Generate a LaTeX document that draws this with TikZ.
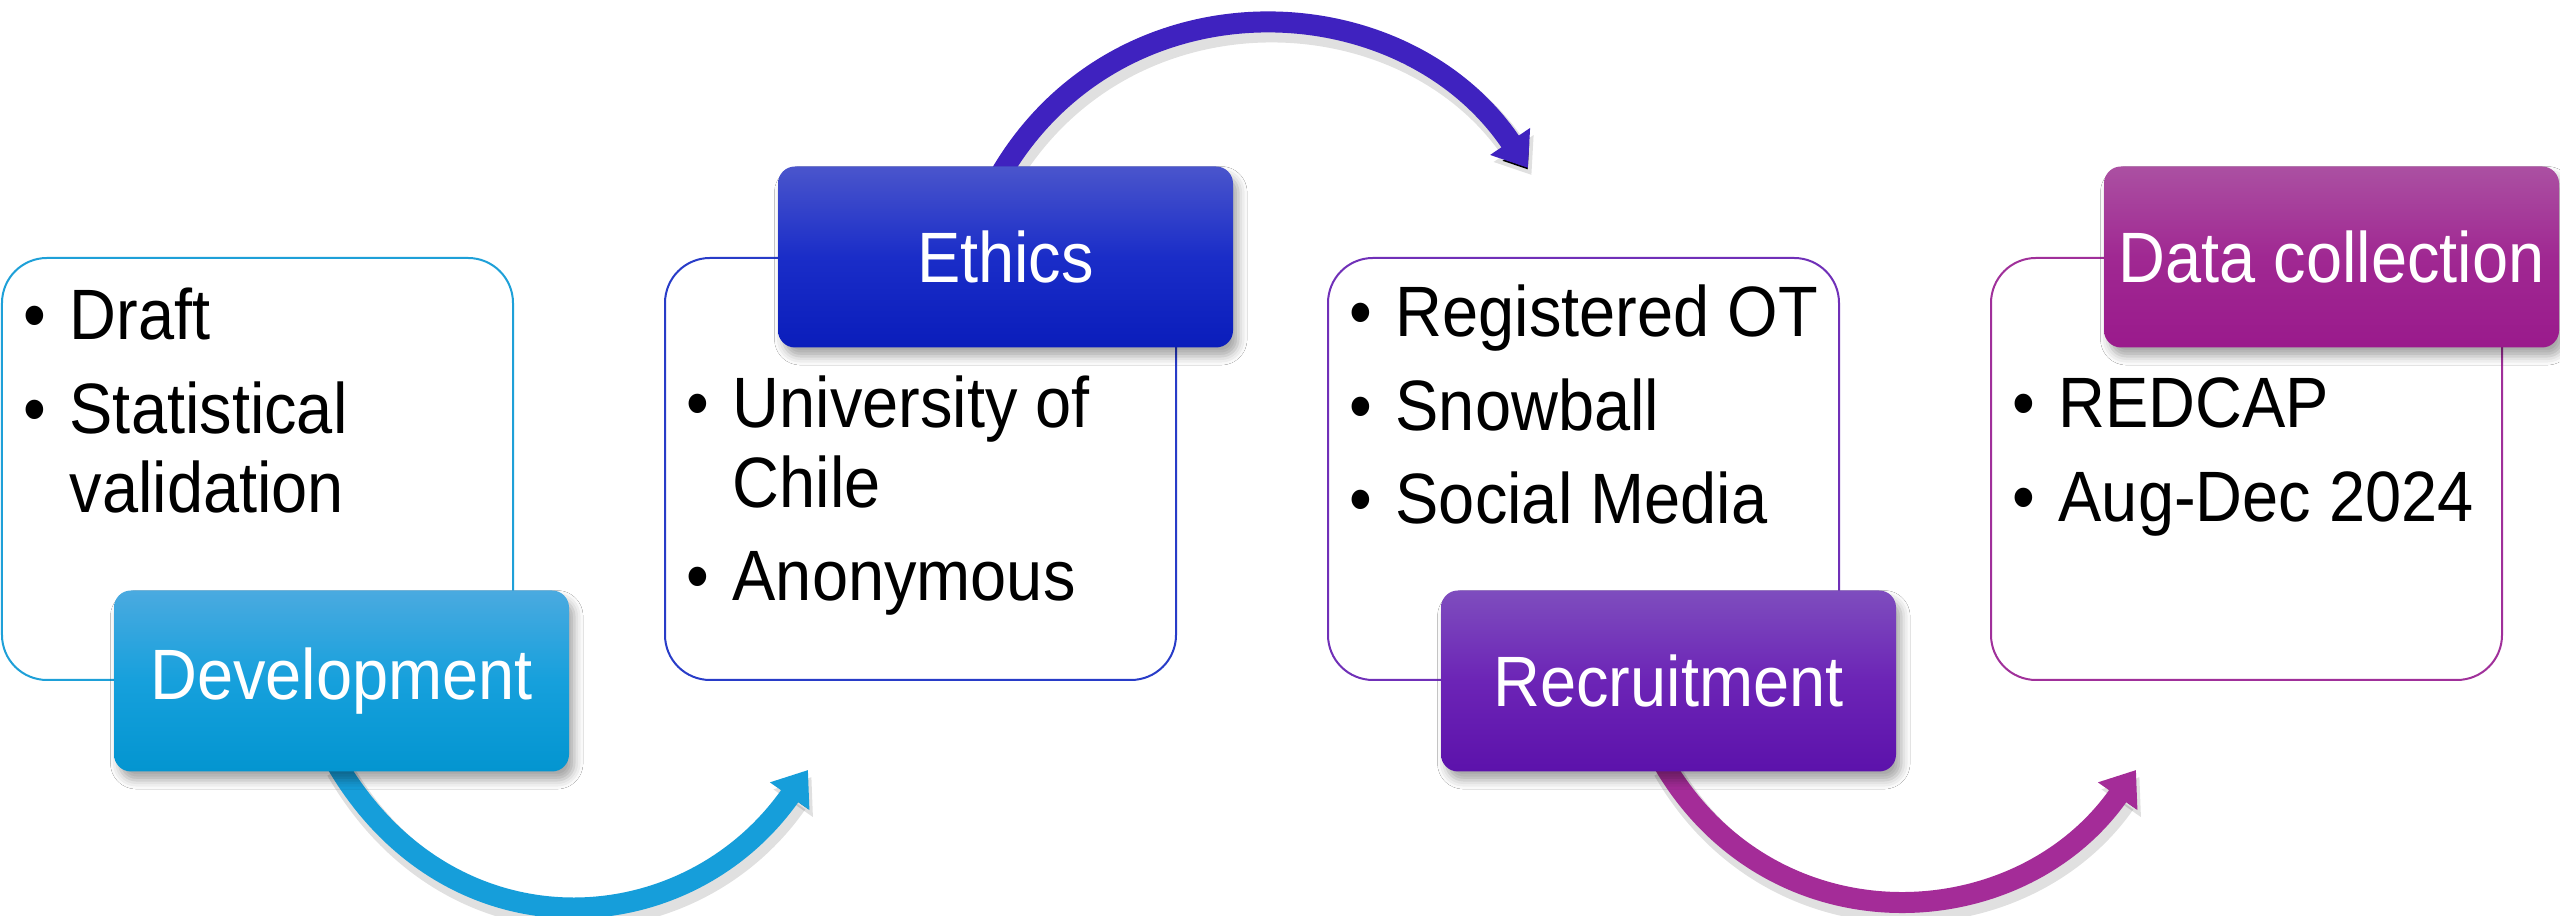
\documentclass[tikz,border=0pt]{standalone}
\usepackage{fontspec}
\setmainfont{Liberation Sans}[FakeStretch=0.91]
\usetikzlibrary{positioning}
\usetikzlibrary{arrows.meta}
\usetikzlibrary{backgrounds}
\usetikzlibrary{shadows.blur}

\definecolor{devline}{RGB}{30,160,216}
\definecolor{devtop}{RGB}{74,170,224}
\definecolor{devmid}{RGB}{22,160,220}
\definecolor{devbot}{RGB}{3,149,208}
\definecolor{ethline}{RGB}{40,60,200}
\definecolor{ethtop}{RGB}{74,85,204}
\definecolor{ethmid}{RGB}{26,45,200}
\definecolor{ethbot}{RGB}{10,29,187}
\definecolor{recline}{RGB}{112,48,184}
\definecolor{rectop}{RGB}{126,77,190}
\definecolor{recmid}{RGB}{108,36,182}
\definecolor{recbot}{RGB}{92,18,171}
\definecolor{dcline}{RGB}{160,48,154}
\definecolor{dctop}{RGB}{171,80,162}
\definecolor{dcmid}{RGB}{160,40,146}
\definecolor{dcbot}{RGB}{154,26,140}
\definecolor{devflow}{RGB}{22,158,218}
\definecolor{ethflow}{RGB}{63,34,191}
\definecolor{recflow}{RGB}{164,44,152}

\newcommand{\bodyfont}{\fontsize{20.3pt}{22.5pt}\selectfont}
\newcommand{\listbullet}{\makebox[0.46cm][l]{\textbullet}}
\newcommand{\listindent}{\hspace*{0.46cm}}

\tikzset{box/.style={rectangle, draw=#1, line width=0.02cm, rounded corners=0.45cm, minimum width=5.11cm, minimum height=4.22cm},
  head/.style n args={3}{rectangle, rounded corners=0.17cm, minimum width=4.55cm, minimum height=1.81cm, top color=#1, bottom color=#3, middle color=#2, text=white, font=\bodyfont, blur shadow={shadow xshift=1.5pt, shadow yshift=-2.5pt, shadow blur radius=2.5pt, shadow opacity=35}},
  items/.style={anchor=base west, inner sep=0pt, font=\bodyfont},
  flow/.style={draw=#1, line width=0.21cm, shorten <=-0.12cm, -{Triangle[width=0.46cm, length=0.32cm]},
    preaction={draw=black, draw opacity=0.12, line width=0.27cm, transform canvas={xshift=1pt, yshift=-2pt}}}}

\begin{document}
\begin{tikzpicture}

  \path[use as bounding box] (0,0) rectangle (25.6,9.16);

  % bodies
  \node[box=devline] (devbox) at (2.575,4.47) {};
  \node[box=ethline, right=1.5cm of devbox] (ethbox) {};
  \node[box=recline, right=1.5cm of ethbox] (recbox) {};
  \node[box=dcline, right=1.5cm of recbox] (dcbox) {};

  % headers
  \node[head={devtop}{devmid}{devbot}] (dev) at ([xshift=0.84cm]devbox.south) {Development};
  \node[head={ethtop}{ethmid}{ethbot}] (eth) at ([xshift=0.85cm]ethbox.north) {Ethics};
  \node[head={rectop}{recmid}{recbot}] (rec) at ([xshift=0.85cm]recbox.south) {Recruitment};
  \node[head={dctop}{dcmid}{dcbot}] (dc) at ([xshift=0.85cm]dcbox.north) {Data collection};

  % lists
  \node[items] (devlist) at ([xshift=0.22cm, yshift=-0.83cm]devbox.north west) {\begin{tabular}[t]{@{}l@{}}\listbullet Draft\\[4pt] \listbullet Statistical\\ \listindent validation\end{tabular}};
  \node[items] (ethlist) at ([xshift=0.22cm, yshift=-1.71cm]ethbox.north west) {\begin{tabular}[t]{@{}l@{}}\listbullet University of\\ \listindent Chile\\[4pt] \listbullet Anonymous\end{tabular}};
  \node[items] (reclist) at ([xshift=0.22cm, yshift=-0.80cm]recbox.north west) {\begin{tabular}[t]{@{}l@{}}\listbullet Registered OT\\[4pt] \listbullet Snowball\\[4pt] \listbullet Social Media\end{tabular}};
  \node[items] (dclist) at ([xshift=0.22cm, yshift=-1.71cm]dcbox.north west) {\begin{tabular}[t]{@{}l@{}}\listbullet REDCAP\\[4pt] \listbullet Aug-Dec 2024\end{tabular}};

  % arrows
  \coordinate (ethin) at (8.08,1.46);
  \coordinate (recin) at (15.28,7.48);
  \coordinate (dcin) at (21.36,1.46);
  \begin{scope}[on background layer]
    \fill[white] (0,0) rectangle (25.6,9.16);
    \draw[flow=devflow] (dev.south) to[out=-60, in=-125, looseness=1.17] (ethin);
    \draw[flow=ethflow] (eth.north) to[out=60, in=124, looseness=1.1] (recin);
    \draw[flow=recflow] (rec.south) to[out=-60, in=-125, looseness=1.12] (dcin);
  \end{scope}

\end{tikzpicture}
\end{document}
